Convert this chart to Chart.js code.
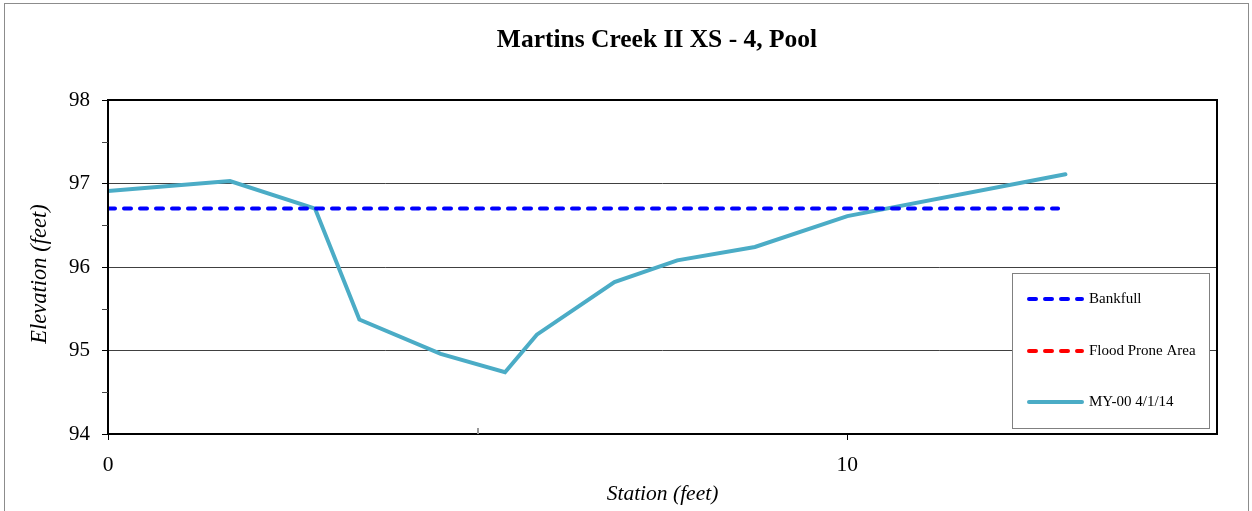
<!DOCTYPE html>
<html>
<head>
<meta charset="utf-8">
<script src="https://cdn.jsdelivr.net/npm/chart.js@4/dist/chart.umd.min.js"></script>
<style>
  html, body { margin: 0; padding: 0; background: #fff; }
  #wrap { width: 1252px; height: 511px; }
</style>
</head>
<body>
<div id="wrap"><canvas id="xsChart"></canvas></div>
<script>
// cross-section survey
const stationFt = [0, 1.65, 2.8, 3.4, 4.5, 5.37, 5.8, 6.85, 7.7, 8.75, 10.0, 12.95];
const elevationFt = [96.91, 97.03, 96.7, 95.37, 94.96, 94.74, 95.19, 95.82, 96.08, 96.24, 96.61, 97.11];
const bankfullStation = [0, 12.85];
const bankfullElev = [96.7, 96.7];
const floodStation = [];
const floodElev = [];

const seriesLabels = ['Bankfull', 'Flood Prone Area', 'MY-00 4/1/14'];
const chartTitle = 'Martins Creek II XS - 4, Pool';
const yTitle = 'Elevation (feet)';

const toPoints = (xs, ys) => xs.map((x, i) => ({ x: x, y: ys[i] }));
const SERIF = "'Liberation Serif', 'Times New Roman', serif";

// page frame, plot frame, minor ticks, title texts
const framePlugin = {
  id: 'frames',
  beforeDraw(chart) {
    const c = chart.ctx;
    c.save();
    c.fillStyle = '#fff';
    c.fillRect(0, 0, chart.width, chart.height);
    c.strokeStyle = '#8c8c8c';
    c.lineWidth = 1;
    c.strokeRect(4.5, 3.5, 1244, 530);
    c.restore();
  },
  afterDatasetsDraw(chart) {
    const c = chart.ctx;
    const a = chart.chartArea;
    const y = chart.scales.y;
    const x = chart.scales.x;
    c.save();
    c.strokeStyle = '#000';
    c.lineWidth = 2;
    c.strokeRect(a.left, a.top, a.right - a.left, a.bottom - a.top);
    // y minor ticks (outside)
    c.lineWidth = 1;
    c.strokeStyle = '#444';
    for (let v = 94.5; v < 98; v += 1) {
      const py = Math.round(y.getPixelForValue(v)) + 0.5;
      c.beginPath();
      c.moveTo(a.left - 6, py);
      c.lineTo(a.left, py);
      c.stroke();
    }
    // x minor tick at 5 (inside)
    c.strokeStyle = '#999';
    c.lineWidth = 2;
    const px = Math.round(x.getPixelForValue(5));
    c.beginPath();
    c.moveTo(px, a.bottom);
    c.lineTo(px, a.bottom - 6);
    c.stroke();

    // chart title, a bit right of canvas centre like the original
    c.fillStyle = '#000';
    c.textAlign = 'center';
    c.textBaseline = 'middle';
    c.font = 'bold 25.5px ' + SERIF;
    c.fillText(chartTitle, 657, 40);

    // y axis title
    c.font = 'italic 22.5px ' + SERIF;
    c.translate(40, 274);
    c.rotate(-Math.PI / 2);
    c.fillText(yTitle, 0, 0);
    c.restore();
  }
};

// boxed legend sitting inside the plot, lower right
const boxLegend = {
  id: 'boxLegend',
  afterDraw(chart) {
    const c = chart.ctx;
    const bx = 1012, by = 273, bw = 197, bh = 155;
    c.save();
    c.fillStyle = '#fff';
    c.fillRect(bx, by, bw, bh);
    c.strokeStyle = '#808080';
    c.lineWidth = 1;
    c.strokeRect(bx + 0.5, by + 0.5, bw, bh);
    const rows = [299, 351, 402];
    chart.data.datasets.forEach((ds, i) => {
      const ry = rows[i];
      c.beginPath();
      c.strokeStyle = ds.borderColor;
      c.lineWidth = ds.borderWidth;
      c.lineCap = ds.borderCapStyle || 'butt';
      c.setLineDash(ds.borderDash || []);
      c.moveTo(1029, ry);
      c.lineTo(1082, ry);
      c.stroke();
      c.setLineDash([]);
      c.fillStyle = '#000';
      c.font = '15px ' + SERIF;
      c.textBaseline = 'middle';
      c.textAlign = 'left';
      c.fillText(ds.label, 1089, ry);
    });
    c.restore();
  }
};

new Chart(document.getElementById('xsChart'), {
  type: 'line',
  data: {
    datasets: [
      {
        label: seriesLabels[0],
        data: toPoints(bankfullStation, bankfullElev),
        borderColor: '#0000ff',
        borderWidth: 4,
        borderDash: [7, 9],
        borderCapStyle: 'round',
        pointRadius: 0,
        fill: false
      },
      {
        label: seriesLabels[1],
        data: toPoints(floodStation, floodElev),
        borderColor: '#ff0000',
        borderWidth: 4,
        borderDash: [7, 9],
        borderCapStyle: 'round',
        pointRadius: 0,
        fill: false
      },
      {
        label: seriesLabels[2],
        data: toPoints(stationFt, elevationFt),
        borderColor: '#4bacc6',
        borderWidth: 4,
        borderCapStyle: 'round',
        pointRadius: 0,
        tension: 0,
        fill: false
      }
    ]
  },
  options: {
    responsive: true,
    maintainAspectRatio: false,
    animation: false,
    events: [],
    layout: { padding: { left: 0, right: 35, top: 100, bottom: 0 } },
    plugins: {
      legend: { display: false },
      tooltip: { enabled: false },
      title: { display: false }
    },
    scales: {
      x: {
        type: 'linear',
        min: 0,
        max: 15,
        afterFit(scale) { scale.height = 77; },
        border: { display: false },
        grid: {
          drawOnChartArea: false,
          drawTicks: true,
          tickLength: 6,
          tickColor: (ctx) => (ctx.tick && (ctx.tick.value === 0 || ctx.tick.value === 10)) ? '#000' : 'rgba(0,0,0,0)'
        },
        ticks: {
          stepSize: 5,
          color: '#000',
          padding: 12,
          maxRotation: 0,
          font: { family: SERIF, size: 21.5 },
          callback: (v) => (v === 0 || v === 10) ? String(v) : ''
        },
        title: {
          display: true,
          text: 'Station (feet)',
          color: '#000',
          font: { family: SERIF, size: 21.5, style: 'italic' },
          padding: { top: 4, bottom: 4 }
        }
      },
      y: {
        min: 94,
        max: 98,
        afterFit(scale) { scale.width = 108; },
        border: { display: false },
        grid: {
          color: '#404040',
          lineWidth: 1,
          drawTicks: true,
          tickLength: 6,
          tickColor: '#000'
        },
        ticks: {
          stepSize: 1,
          color: '#000',
          padding: 12,
          font: { family: SERIF, size: 21 }
        },
        title: { display: false }
      }
    }
  },
  plugins: [framePlugin, boxLegend]
});
</script>
</body>
</html>
